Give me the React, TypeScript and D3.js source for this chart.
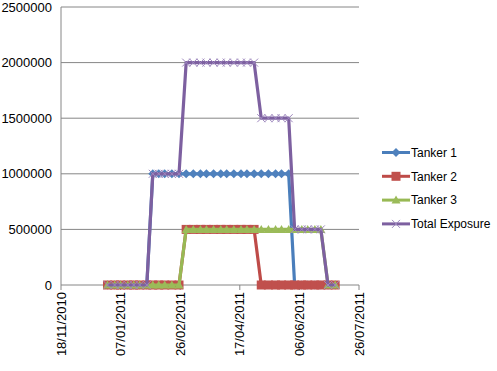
import React from 'react';
import * as d3 from 'd3';

// observation dates (dd/mm/yyyy)
const dates = [
  '27/12/2010', '02/01/2011', '07/01/2011', '13/01/2011', '18/01/2011', '23/01/2011',
  '29/01/2011', '03/02/2011', '08/02/2011', '13/02/2011', '19/02/2011', '25/02/2011',
  '03/03/2011', '09/03/2011', '15/03/2011', '20/03/2011', '26/03/2011', '01/04/2011',
  '06/04/2011', '12/04/2011', '18/04/2011', '23/04/2011', '29/04/2011', '05/05/2011',
  '11/05/2011', '17/05/2011', '22/05/2011', '28/05/2011', '02/06/2011', '08/06/2011',
  '13/06/2011', '19/06/2011', '24/06/2011', '30/06/2011', '06/07/2011',
];

const tanker1 = [
  0, 0, 0, 0, 0, 0, 0,
  1000000, 1000000, 1000000, 1000000, 1000000, 1000000, 1000000, 1000000, 1000000, 1000000,
  1000000, 1000000, 1000000, 1000000, 1000000, 1000000, 1000000, 1000000, 1000000, 1000000, 1000000,
  0, 0, 0, 0, 0, 0, 0,
];
const tanker2 = [
  0, 0, 0, 0, 0, 0, 0, 0, 0, 0, 0, 0,
  500000, 500000, 500000, 500000, 500000, 500000, 500000, 500000, 500000, 500000, 500000,
  0, 0, 0, 0, 0, 0, 0, 0, 0, 0, 0, 0,
];
const tanker3 = [
  0, 0, 0, 0, 0, 0, 0, 0, 0, 0, 0, 0,
  500000, 500000, 500000, 500000, 500000, 500000, 500000, 500000, 500000, 500000, 500000,
  500000, 500000, 500000, 500000, 500000, 500000, 500000, 500000, 500000, 500000,
  0, 0,
];
const totalExposure = [
  0, 0, 0, 0, 0, 0, 0,
  1000000, 1000000, 1000000, 1000000, 1000000,
  2000000, 2000000, 2000000, 2000000, 2000000, 2000000, 2000000, 2000000, 2000000, 2000000, 2000000,
  1500000, 1500000, 1500000, 1500000, 1500000,
  500000, 500000, 500000, 500000, 500000,
  0, 0,
];

const seriesNames = ['Tanker 1', 'Tanker 2', 'Tanker 3', 'Total Exposure'];
const xTickLabels = ['18/11/2010', '07/01/2011', '26/02/2011', '17/04/2011', '06/06/2011', '26/07/2011'];
const yTicks = [0, 500000, 1000000, 1500000, 2000000, 2500000];

const W = 497;
const H = 371;
const font = "'Liberation Sans', Arial, sans-serif";

const parse = d3.timeParse('%d/%m/%Y');

const series = [
  { name: seriesNames[0], values: tanker1, line: '#4A7EBB', fill: '#4F81BD', shape: 'diamond' },
  { name: seriesNames[1], values: tanker2, line: '#BE4B48', fill: '#C0504D', shape: 'square' },
  { name: seriesNames[2], values: tanker3, line: '#98B954', fill: '#9BBB59', shape: 'triangle' },
  { name: seriesNames[3], values: totalExposure, line: '#7D60A0', fill: '#9E88BE', shape: 'x' },
];

const Marker = ({ shape, x, y, color }) => {
  if (shape === 'diamond') {
    return <path d={`M${x},${y - 4.5}L${x + 4.5},${y}L${x},${y + 4.5}L${x - 4.5},${y}Z`} fill={color} />;
  }
  if (shape === 'square') {
    return <rect x={x - 4.5} y={y - 4.5} width={9} height={9} fill={color} />;
  }
  if (shape === 'triangle') {
    return <path d={`M${x},${y - 4.5}L${x + 4.5},${y + 3.5}L${x - 4.5},${y + 3.5}Z`} fill={color} />;
  }
  return (
    <path
      d={`M${x - 4},${y - 4}L${x + 4},${y + 4}M${x - 4},${y + 4}L${x + 4},${y - 4}`}
      stroke={color}
      strokeWidth={1}
      fill="none"
    />
  );
};

export default function App() {
  const margin = { left: 61, right: 359, top: 7, bottom: 285 };

  const x = d3
    .scaleTime()
    .domain([parse(xTickLabels[0]), parse(xTickLabels[xTickLabels.length - 1])])
    .range([margin.left, margin.right]);
  const y = d3.scaleLinear().domain([0, 2500000]).range([margin.bottom, margin.top]);

  const line = d3
    .line<number>()
    .x((_, i) => x(parse(dates[i])))
    .y((d) => y(d));

  return (
    <svg
      width={W}
      height={H}
      style={{ position: 'absolute', left: 0, top: 0, background: '#fff' }}
      fontFamily={font}
    >
      <rect width={W} height={H} fill="#fff" />
      {/* gridlines + y labels */}
      {yTicks.map((t) => (
        <g key={t}>
          <line x1={margin.left} x2={margin.right} y1={y(t)} y2={y(t)} stroke="#868686" strokeWidth={1} />
          <text x={52} y={y(t)} dy="0.36em" textAnchor="end" fontSize={13} fill="#000">
            {t}
          </text>
        </g>
      ))}
      <line x1={margin.left} x2={margin.left} y1={margin.top} y2={margin.bottom} stroke="#868686" />
      {/* x ticks */}
      {xTickLabels.map((l) => {
        const px = x(parse(l));
        return (
          <g key={l}>
            <line x1={px} x2={px} y1={margin.bottom} y2={margin.bottom + 5} stroke="#868686" />
            <text
              transform={`translate(${px},${margin.bottom + 7}) rotate(-90)`}
              textAnchor="end"
              dy="0.36em"
              fontSize={13}
              fill="#000"
            >
              {l}
            </text>
          </g>
        );
      })}
      {/* series */}
      {series.map((s) => (
        <g key={s.name}>
          <path d={line(s.values)} fill="none" stroke={s.line} strokeWidth={3.2} strokeLinejoin="round" />
          {s.values.map((v, i) => (
            <Marker key={i} shape={s.shape} x={x(parse(dates[i]))} y={y(v)} color={s.fill} />
          ))}
        </g>
      ))}
      {/* legend */}
      {series.map((s, i) => {
        const ly = 152.5 + i * 23.8;
        return (
          <g key={s.name}>
            <line x1={382} x2={410} y1={ly} y2={ly} stroke={s.line} strokeWidth={3} />
            <Marker shape={s.shape} x={396} y={ly} color={s.fill} />
            <text x={411} y={ly} dy="0.36em" fontSize={12} fill="#000">
              {s.name}
            </text>
          </g>
        );
      })}
    </svg>
  );
}
